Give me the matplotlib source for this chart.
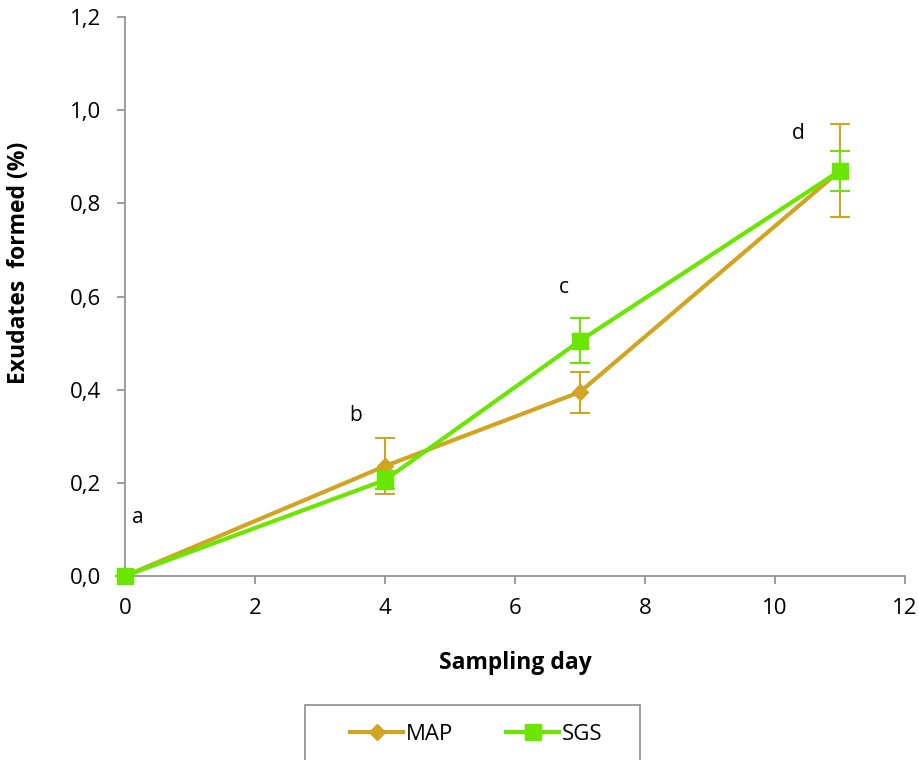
import matplotlib.pyplot as plt
from matplotlib.lines import Line2D
from matplotlib.patches import Rectangle
from matplotlib.ticker import FuncFormatter

plt.rcParams['font.family'] = ['Open Sans', 'DejaVu Sans']

# Data
days = [0, 4, 7, 11]
map_vals = [0.0, 0.236, 0.395, 0.87]
map_err = [0.0, 0.06, 0.044, 0.10]
sgs_vals = [0.0, 0.206, 0.505, 0.87]
sgs_err = [0.0, 0.02, 0.048, 0.043]
letters = ['a', 'b', 'c', 'd']
letter_x = [0.2, 3.55, 6.75, 10.35]
letter_y = [0.125, 0.345, 0.62, 0.95]

map_color = '#D1A521'
sgs_color = '#6BE600'
gray = '#8C8C8C'

fig = plt.figure(figsize=(9.2, 7.6), dpi=100)
ax = fig.add_axes([0.1359, 0.2421, 0.8478, 0.7355])

ax.errorbar(days, map_vals, yerr=map_err, color=map_color, lw=3, marker='D',
            markersize=8, ecolor=map_color, elinewidth=1.5, capsize=7, capthick=1.5,
            zorder=3, clip_on=False)
ax.errorbar(days, sgs_vals, yerr=sgs_err, color=sgs_color, lw=3, marker='s',
            markersize=12, ecolor=sgs_color, elinewidth=1.5, capsize=7, capthick=1.5,
            zorder=4, clip_on=False)

for t, x, y in zip(letters, letter_x, letter_y):
    ax.text(x, y, t, fontsize=15, ha='center', va='center')

ax.set_xlim(0, 12)
ax.set_ylim(0, 1.2)
ax.set_xticks(range(0, 13, 2))
ax.set_yticks([0, 0.2, 0.4, 0.6, 0.8, 1.0, 1.2])
ax.yaxis.set_major_formatter(FuncFormatter(lambda v, p: f'{v:.1f}'.replace('.', ',')))
ax.tick_params(labelsize=16, color=gray, length=6, width=1.2)
ax.tick_params(axis='x', pad=10)
ax.tick_params(axis='y', pad=11)
for s in ['top', 'right']:
    ax.spines[s].set_visible(False)
for s in ['left', 'bottom']:
    ax.spines[s].set_color(gray)
    ax.spines[s].set_linewidth(1.2)
ax.set_xlabel('Sampling day', fontsize=16.5, fontweight='bold', labelpad=23)
ax.set_ylabel('Exudates  formed (%)', fontsize=16.5, fontweight='bold')
ax.yaxis.set_label_coords(-0.121, 0.56)

# legend box runs off the bottom edge like the original
fig.patches.append(Rectangle((305 / 920, -0.05), 335 / 920, 0.05 + 55 / 760,
                             transform=fig.transFigure, fill=False,
                             edgecolor=gray, linewidth=1.2))
handles = [Line2D([], [], color=map_color, lw=3, marker='D', markersize=8),
           Line2D([], [], color=sgs_color, lw=3, marker='s', markersize=12)]
fig.legend(handles, ['MAP', 'SGS'], loc='center', bbox_to_anchor=(476 / 920, 1 - 734 / 760),
           ncol=2, fontsize=16, frameon=False, handlelength=2.4,
           handletextpad=0.1, columnspacing=2.4)

fig.savefig('out.png', dpi=100)
